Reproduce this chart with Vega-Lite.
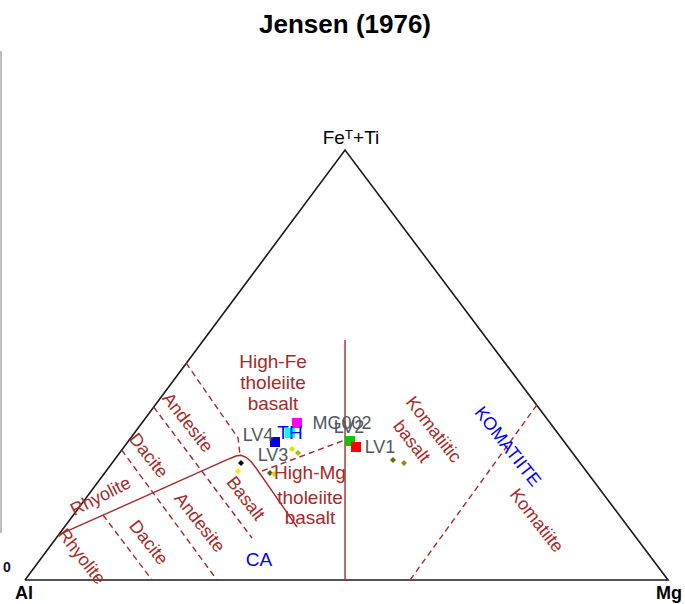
{
  "$schema": "https://vega.github.io/schema/vega-lite/v6.json",
  "width": 685,
  "height": 604,
  "padding": 0,
  "autosize": {"type": "none"},
  "background": "white",
  "config": {"view": {"stroke": null}, "text": {"font": "Liberation Sans"}},
  "resolve": {"scale": {"color": "independent"}},
  "datasets": {
    "triangle": [
      {"o": 1, "x": 0, "y": 0},
      {"o": 2, "x": 100, "y": 0},
      {"o": 3, "x": 49.77, "y": 100},
      {"o": 4, "x": 0, "y": 0}
    ],
    "axisline": [{"x": -3.73, "y": 123.0, "y2": 10.93}],
    "solid": [
      {"id": "v", "o": 1, "x": 49.77, "y": 55.81},
      {"id": "v", "o": 2, "x": 49.77, "y": 0},
      {"id": "ca", "o": 1, "x": 5.21, "y": 10.47},
      {"id": "ca", "o": 2, "x": 31.88, "y": 28.26},
      {"id": "ca", "o": 3, "x": 32.81, "y": 28.84},
      {"id": "ca", "o": 4, "x": 33.59, "y": 29.0},
      {"id": "ca", "o": 5, "x": 34.37, "y": 28.53},
      {"id": "ca", "o": 6, "x": 35.15, "y": 27.56},
      {"id": "ca", "o": 7, "x": 35.93, "y": 26.05},
      {"id": "ca", "o": 8, "x": 42.3, "y": 12.33}
    ],
    "dashed": [
      {"id": "k", "o": 1, "x": 79.6, "y": 40.7},
      {"id": "k", "o": 2, "x": 59.88, "y": 0},
      {"id": "th", "o": 1, "x": 36.86, "y": 25.35},
      {"id": "th", "o": 2, "x": 49.77, "y": 32.56},
      {"id": "a", "o": 1, "x": 25.04, "y": 50.47},
      {"id": "a", "o": 2, "x": 33.13, "y": 33.02},
      {"id": "a", "o": 3, "x": 33.44, "y": 29.07},
      {"id": "b", "o": 1, "x": 20.01, "y": 40.23},
      {"id": "b", "o": 2, "x": 35.3, "y": 9.77},
      {"id": "c", "o": 1, "x": 15.04, "y": 30.23},
      {"id": "c", "o": 2, "x": 29.86, "y": 0},
      {"id": "d", "o": 1, "x": 12.13, "y": 15.12},
      {"id": "d", "o": 2, "x": 19.75, "y": 0}
    ],
    "squares": [
      {"sample": "MG002", "x": 42.3, "y": 36.51},
      {"sample": "TH", "x": 41.21, "y": 34.19},
      {"sample": "LV4", "x": 38.88, "y": 32.09},
      {"sample": "LV2", "x": 50.54, "y": 32.33},
      {"sample": "LV1", "x": 51.48, "y": 30.93}
    ],
    "small": [
      {"sample": "LV3-1", "x": 41.52, "y": 30.47},
      {"sample": "LV3-2", "x": 42.46, "y": 29.53},
      {"sample": "K1", "x": 57.23, "y": 27.91},
      {"sample": "K2", "x": 58.94, "y": 27.21},
      {"sample": "C1", "x": 33.59, "y": 27.21},
      {"sample": "C2", "x": 33.13, "y": 25.35},
      {"sample": "C3", "x": 38.1, "y": 24.88},
      {"sample": "C4", "x": 38.72, "y": 24.65}
    ],
    "samplelabels": [
      {"label": "LV4", "x": 36.24, "y": 33.49},
      {"label": "LV3", "x": 38.57, "y": 28.84},
      {"label": "LV2", "x": 50.39, "y": 35.35},
      {"label": "MG002", "x": 49.3, "y": 36.28},
      {"label": "LV1", "x": 55.21, "y": 30.7}
    ],
    "brownflat": [
      {"label": "High-Fe", "x": 38.57, "y": 50.7},
      {"label": "tholeiite", "x": 38.57, "y": 45.81},
      {"label": "basalt", "x": 38.57, "y": 40.93},
      {"label": "High-Mg", "x": 44.32, "y": 24.88},
      {"label": "tholeiite", "x": 44.32, "y": 19.07},
      {"label": "basalt", "x": 44.32, "y": 14.42}
    ],
    "brownrot": [
      {"label": "Komatiitic", "x": 63.45, "y": 34.88},
      {"label": "basalt", "x": 60.03, "y": 32.09},
      {"label": "Komatiite", "x": 79.47, "y": 13.72},
      {"label": "Basalt", "x": 34.21, "y": 18.84},
      {"label": "Andesite", "x": 25.19, "y": 36.51},
      {"label": "Dacite", "x": 19.13, "y": 28.84},
      {"label": "Rhyolite", "x": 8.71, "y": 5.35},
      {"label": "Dacite", "x": 19.13, "y": 8.6},
      {"label": "Andesite", "x": 27.06, "y": 13.26}
    ],
    "brownup": [{"label": "Rhyolite", "x": 11.82, "y": 19.3}],
    "blueflat": [
      {"label": "TH", "x": 41.21, "y": 34.19},
      {"label": "CA", "x": 36.39, "y": 4.65}
    ],
    "bluerot": [{"label": "KOMATIITE", "x": 74.96, "y": 30.93}],
    "apices": [
      {"label": "Al", "x": -0.16, "y": -3.3},
      {"label": "Mg", "x": 100.16, "y": -3.3}
    ],
    "apex": [{"label": "Feᵀ+Ti", "x": 50.7, "y": 102.79}],
    "zero": [{"label": "0", "x": -2.8, "y": 2.79}],
    "title": [{"label": "Jensen (1976)", "x": 49.77, "y": 129.07}]
  },
  "encoding": {
    "x": {"field": "x", "type": "quantitative", "axis": null, "scale": {"domain": [-3.888, 102.64], "nice": false, "zero": false}},
    "y": {"field": "y", "type": "quantitative", "axis": null, "scale": {"domain": [-5.581, 134.88], "nice": false, "zero": false}}
  },
  "layer": [
    {
      "data": {"name": "axisline"},
      "mark": {"type": "rule", "color": "#7a7a7a", "strokeWidth": 1},
      "encoding": {"y2": {"field": "y2"}}
    },
    {
      "data": {"name": "triangle"},
      "mark": {"type": "line", "color": "#1a1a1a", "strokeWidth": 1.6},
      "encoding": {"order": {"field": "o", "type": "quantitative"}}
    },
    {
      "data": {"name": "solid"},
      "mark": {"type": "line", "color": "#a52a2a", "strokeWidth": 1.4},
      "encoding": {"order": {"field": "o", "type": "quantitative"}, "detail": {"field": "id"}}
    },
    {
      "data": {"name": "dashed"},
      "mark": {"type": "line", "color": "#a52a2a", "strokeWidth": 1.4, "strokeDash": [6, 4]},
      "encoding": {"order": {"field": "o", "type": "quantitative"}, "detail": {"field": "id"}}
    },
    {
      "data": {"name": "small"},
      "mark": {"type": "point", "shape": "diamond", "filled": true, "size": 36, "opacity": 1},
      "encoding": {
        "color": {"field": "sample", "type": "nominal", "legend": null,
          "scale": {"domain": ["LV3-1", "LV3-2", "K1", "K2", "C1", "C2", "C3", "C4"],
                    "range": ["#e0e000", "#b8b800", "#6b6b00", "#8f8f10", "#000000", "#f0f000", "#5a5a00", "#d8d800"]}}
      }
    },
    {
      "data": {"name": "squares"},
      "mark": {"type": "square", "filled": true, "size": 100, "opacity": 1},
      "encoding": {
        "color": {"field": "sample", "type": "nominal", "legend": null,
          "scale": {"domain": ["MG002", "TH", "LV4", "LV2", "LV1"],
                    "range": ["#ff00ff", "#00ffff", "#0000dd", "#00cc00", "#ff0000"]}}
      }
    },
    {
      "data": {"name": "samplelabels"},
      "mark": {"type": "text", "fontSize": 18, "color": "#4f5860", "align": "center", "baseline": "middle"},
      "encoding": {"text": {"field": "label"}}
    },
    {
      "data": {"name": "brownflat"},
      "mark": {"type": "text", "fontSize": 19, "color": "#a52a2a", "align": "center", "baseline": "middle"},
      "encoding": {"text": {"field": "label"}}
    },
    {
      "data": {"name": "brownrot"},
      "mark": {"type": "text", "fontSize": 18, "color": "#a52a2a", "align": "center", "baseline": "middle", "angle": 52},
      "encoding": {"text": {"field": "label"}}
    },
    {
      "data": {"name": "brownup"},
      "mark": {"type": "text", "fontSize": 18, "color": "#a52a2a", "align": "center", "baseline": "middle", "angle": -27},
      "encoding": {"text": {"field": "label"}}
    },
    {
      "data": {"name": "blueflat"},
      "mark": {"type": "text", "fontSize": 19, "color": "#0000ff", "align": "center", "baseline": "middle"},
      "encoding": {"text": {"field": "label"}}
    },
    {
      "data": {"name": "bluerot"},
      "mark": {"type": "text", "fontSize": 18, "color": "#0000ff", "align": "center", "baseline": "middle", "angle": 52},
      "encoding": {"text": {"field": "label"}}
    },
    {
      "data": {"name": "apices"},
      "mark": {"type": "text", "fontSize": 18, "fontWeight": "bold", "color": "#000000", "align": "center", "baseline": "middle"},
      "encoding": {"text": {"field": "label"}}
    },
    {
      "data": {"name": "apex"},
      "mark": {"type": "text", "fontSize": 19, "color": "#000000", "align": "center", "baseline": "middle"},
      "encoding": {"text": {"field": "label"}}
    },
    {
      "data": {"name": "zero"},
      "mark": {"type": "text", "fontSize": 14, "fontWeight": "bold", "color": "#101020", "align": "center", "baseline": "middle"},
      "encoding": {"text": {"field": "label"}}
    },
    {
      "data": {"name": "title"},
      "mark": {"type": "text", "fontSize": 26, "fontWeight": "bold", "color": "#000000", "align": "center", "baseline": "middle"},
      "encoding": {"text": {"field": "label"}}
    }
  ]
}
